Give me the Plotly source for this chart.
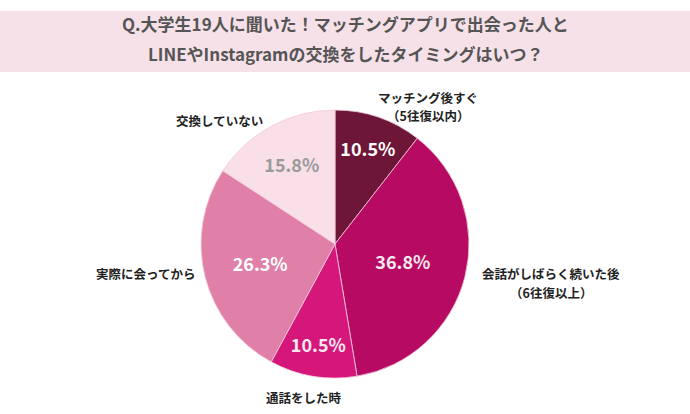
import plotly.graph_objects as go

categories = ["マッチング後すぐ（5往復以内）", "会話がしばらく続いた後（6往復以上）", "通話をした時", "実際に会ってから", "交換していない"]
label_lines = [["マッチング後すぐ", "（5往復以内）"], ["会話がしばらく続いた後", "（6往復以上）"], ["通話をした時"], ["実際に会ってから"], ["交換していない"]]
counts = [2, 7, 2, 5, 3]
colors = ["#6d1638", "#b70a62", "#d5177b", "#e080a8", "#f8dfe8"]
text_colors = ["#ffffff", "#f7e9f0", "#f7e9f0", "#ffffff", "#9a9a9a"]

title_lines = ["Q.大学生19人に聞いた！マッチングアプリで出会った人と", "LINEやInstagramの交換をしたタイミングはいつ？"]

W, H = 690, 414
cx, cy, r = 335, 244, 134

fig = go.Figure(go.Pie(
    labels=categories,
    values=counts,
    sort=False,
    direction="clockwise",
    rotation=0,
    marker=dict(colors=colors, line=dict(color="#f4c9dc", width=0.8)),
    texttemplate="%{percent:.1%}",
    textposition="inside",
    insidetextorientation="horizontal",
    textfont=dict(family="Noto Sans CJK JP", size=18, color=text_colors, weight="bold"),
    hoverinfo="label+percent",
    showlegend=False,
    domain=dict(x=[(cx - r) / W, (cx + r) / W], y=[(H - cy - r) / H, (H - cy + r) / H]),
))

# label anchor (center x, first-line y, line spacing) in pixels
label_pos = [(428, 98, 17), (551, 273, 19), (304, 397, 0), (145, 273, 0), (220, 121, 0)]
annotations = []
for lines, (x, y, dy) in zip(label_lines, label_pos):
    for i, txt in enumerate(lines):
        annotations.append(dict(
            x=x / W, y=1 - (y + i * dy) / H, xref="paper", yref="paper", text=txt, showarrow=False,
            xanchor="center", yanchor="middle", align="center",
            font=dict(family="Noto Sans CJK JP", size=12.5, color="#222222", weight="bold"),
        ))
for i, txt in enumerate(title_lines):
    annotations.append(dict(
        x=345 / W, y=1 - (23 + i * 30) / H, xref="paper", yref="paper", text=txt, showarrow=False,
        xanchor="center", yanchor="middle", align="center",
        font=dict(family="Noto Sans CJK JP", size=17, color="#555555", weight="bold"),
    ))

fig.update_layout(
    width=W, height=H,
    margin=dict(l=0, r=0, t=0, b=0),
    paper_bgcolor="white",
    plot_bgcolor="white",
    uniformtext=dict(minsize=18, mode="show"),
    shapes=[dict(type="rect", xref="paper", yref="paper", x0=0, x1=1,
                 y0=1 - 72 / H, y1=1 - 11 / H, fillcolor="#f6e1e9", line=dict(width=0), layer="below")],
    annotations=annotations,
)

fig.write_html("out.html", config={"displayModeBar": False},
               post_script="document.body.style.margin='0';")
